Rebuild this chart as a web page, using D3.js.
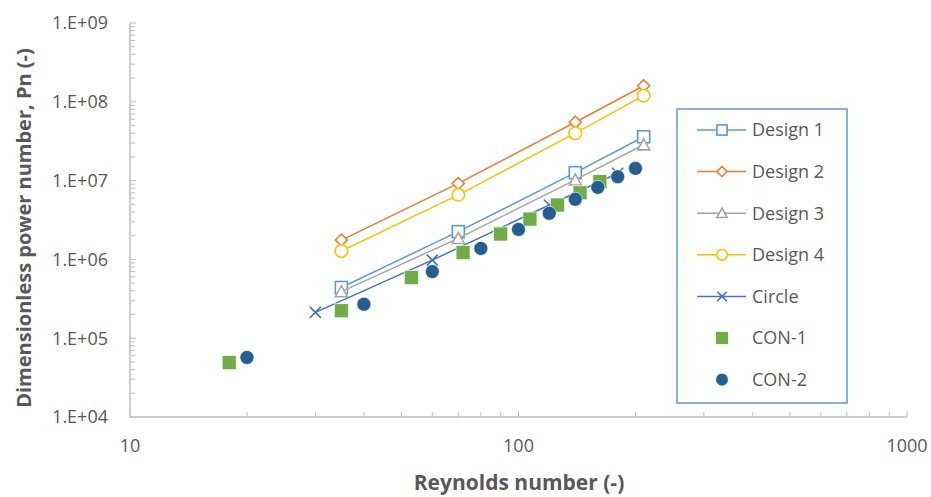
<!DOCTYPE html>
<html>
<head>
<meta charset="utf-8">
<script src="https://cdn.jsdelivr.net/npm/d3@7"></script>
<style>
  html, body { margin: 0; padding: 0; background: #fff; }
  svg { display: block; font-family: "Open Sans", "Noto Sans", sans-serif; }
</style>
</head>
<body>
<svg id="chart" width="931" height="497"></svg>
<script>
// Reynolds number (x) and dimensionless power number (y) per series
const designRe = [35, 70, 140, 210];
const design1 = [4.4e5, 2.25e6, 1.26e7, 3.6e7];
const design2 = [1.76e6, 9.2e6, 5.5e7, 1.6e8];
const design3 = [3.9e5, 1.85e6, 1.02e7, 2.85e7];
const design4 = [1.28e6, 6.6e6, 4.0e7, 1.2e8];

const circleRe = [30, 60, 120, 180];
const circleVals = [2.13e5, 9.8e5, 4.9e6, 1.24e7];

const con1Re = [18, 35, 53, 72, 90, 107, 126, 144, 162];
const con1Vals = [4.9e4, 2.23e5, 5.9e5, 1.22e6, 2.1e6, 3.25e6, 4.9e6, 7.0e6, 9.7e6];

const con2Re = [20, 40, 60, 80, 100, 120, 140, 160, 180, 200];
const con2Vals = [5.7e4, 2.7e5, 7.0e5, 1.38e6, 2.4e6, 3.85e6, 5.8e6, 8.2e6, 1.12e7, 1.43e7];

const xTickLabels = ["10", "100", "1000"];
const yTickLabels = ["1.E+04", "1.E+05", "1.E+06", "1.E+07", "1.E+08", "1.E+09"];

const seriesNames = ["Design 1", "Design 2", "Design 3", "Design 4", "Circle", "CON-1", "CON-2"];

const series = [
  { name: seriesNames[0], xs: designRe, ys: design1, color: "#5B9BD5", marker: "square", line: true },
  { name: seriesNames[1], xs: designRe, ys: design2, color: "#ED7D31", marker: "diamond", line: true },
  { name: seriesNames[2], xs: designRe, ys: design3, color: "#A5A5A5", marker: "triangle", line: true },
  { name: seriesNames[3], xs: designRe, ys: design4, color: "#FFC000", marker: "circle", line: true },
  { name: seriesNames[4], xs: circleRe, ys: circleVals, color: "#4472C4", marker: "cross", line: true },
  { name: seriesNames[5], xs: con1Re, ys: con1Vals, color: "#70AD47", marker: "fsquare", line: false },
  { name: seriesNames[6], xs: con2Re, ys: con2Vals, color: "#255E91", marker: "fcircle", line: false }
];

const svg = d3.select("#chart");
const plotLeft = 130, plotRight = 907, plotTop = 23, plotBottom = 417;

const x = d3.scaleLog().domain([10, 1000]).range([plotLeft, plotRight]);
const y = d3.scaleLog().domain([1e4, 1e9]).range([plotBottom, plotTop]);

const axisColor = "#BFBFBF";
const textColor = "#595959";

// Minor/major tick values for each decade
const xMinor = [], yMinor = [];
for (let d = 10; d < 1000; d *= 10) for (let k = 2; k <= 9; k++) xMinor.push(d * k);
for (let d = 1e4; d < 1e9; d *= 10) for (let k = 2; k <= 9; k++) yMinor.push(d * k);
const xMajor = xTickLabels.map(Number);
const yMajor = yTickLabels.map(Number);

// X axis: ticks point inward (upward)
const gx = svg.append("g").attr("transform", `translate(0,${plotBottom})`);
gx.append("line").attr("x1", plotLeft).attr("x2", plotRight).attr("stroke", axisColor).attr("stroke-width", 1.5);
gx.selectAll(".xminor").data(xMinor).join("line")
  .attr("x1", d => x(d)).attr("x2", d => x(d)).attr("y1", 0).attr("y2", -5)
  .attr("stroke", axisColor).attr("stroke-width", 1);
gx.selectAll(".xmajor").data(xMajor).join("line")
  .attr("x1", d => x(d)).attr("x2", d => x(d)).attr("y1", 0).attr("y2", -6)
  .attr("stroke", axisColor).attr("stroke-width", 1);
gx.selectAll(".xlab").data(xMajor).join("text")
  .attr("x", d => x(d)).attr("y", 35)
  .attr("text-anchor", "middle").attr("fill", textColor).attr("font-size", 18)
  .text((d, i) => xTickLabels[i]);

// Y axis: ticks point inward (rightward)
const gy = svg.append("g").attr("transform", `translate(${plotLeft},0)`);
gy.append("line").attr("y1", plotTop).attr("y2", plotBottom).attr("stroke", axisColor).attr("stroke-width", 1.5);
gy.selectAll(".yminor").data(yMinor).join("line")
  .attr("y1", d => y(d)).attr("y2", d => y(d)).attr("x1", 0).attr("x2", 5)
  .attr("stroke", axisColor).attr("stroke-width", 1);
gy.selectAll(".ymajor").data(yMajor).join("line")
  .attr("y1", d => y(d)).attr("y2", d => y(d)).attr("x1", 0).attr("x2", 6)
  .attr("stroke", axisColor).attr("stroke-width", 1);
gy.selectAll(".ylab").data(yMajor).join("text")
  .attr("x", -22).attr("y", d => y(d)).attr("dy", "0.35em")
  .attr("text-anchor", "end").attr("fill", textColor).attr("font-size", 18)
  .text((d, i) => yTickLabels[i]);

// Axis titles
svg.append("text").attr("x", 519).attr("y", 490)
  .attr("text-anchor", "middle").attr("font-weight", "bold").attr("font-size", 21)
  .attr("fill", textColor).text("Reynolds number (-)");
svg.append("text").attr("transform", "translate(31,228) rotate(-90)")
  .attr("text-anchor", "middle").attr("font-weight", "bold").attr("font-size", 20)
  .attr("fill", textColor).text("Dimensionless power number, Pn (-)");

// Marker drawing
function drawMarker(g, type, color, cx, cy, scale) {
  const s = scale || 1;
  if (type === "square") {
    const h = 6 * s;
    g.append("rect").attr("x", cx - h).attr("y", cy - h).attr("width", 2 * h).attr("height", 2 * h)
      .attr("fill", "#fff").attr("stroke", color).attr("stroke-width", 1.6);
  } else if (type === "diamond") {
    const h = 6 * s;
    g.append("path").attr("d", `M${cx},${cy - h}L${cx + h},${cy}L${cx},${cy + h}L${cx - h},${cy}Z`)
      .attr("fill", "#fff").attr("stroke", color).attr("stroke-width", 1.6);
  } else if (type === "triangle") {
    const h = 6 * s;
    g.append("path").attr("d", `M${cx},${cy - h}L${cx + h},${cy + h * 0.85}L${cx - h},${cy + h * 0.85}Z`)
      .attr("fill", "#fff").attr("stroke", color).attr("stroke-width", 1.6);
  } else if (type === "circle") {
    g.append("circle").attr("cx", cx).attr("cy", cy).attr("r", 6.3 * s)
      .attr("fill", "#fff").attr("stroke", color).attr("stroke-width", 1.6);
  } else if (type === "cross") {
    const h = 5.5 * s;
    g.append("path").attr("d", `M${cx - h},${cy - h}L${cx + h},${cy + h}M${cx - h},${cy + h}L${cx + h},${cy - h}`)
      .attr("fill", "none").attr("stroke", color).attr("stroke-width", 1.6);
  } else if (type === "fsquare") {
    const h = 7 * s;
    g.append("rect").attr("x", cx - h).attr("y", cy - h).attr("width", 2 * h).attr("height", 2 * h)
      .attr("fill", color).attr("stroke", "#fff").attr("stroke-width", 0.6);
  } else if (type === "fcircle") {
    g.append("circle").attr("cx", cx).attr("cy", cy).attr("r", 7 * s)
      .attr("fill", color).attr("stroke", "#fff").attr("stroke-width", 0.6);
  }
}

// Series lines and markers
const plot = svg.append("g");
const lineGen = d3.line().x(d => x(d[0])).y(d => y(d[1]));
series.forEach(s => {
  const pts = s.xs.map((v, i) => [v, s.ys[i]]);
  const g = plot.append("g");
  if (s.line) {
    g.append("path").attr("d", lineGen(pts)).attr("fill", "none")
      .attr("stroke", s.color).attr("stroke-width", 1.5);
  }
  pts.forEach(p => drawMarker(g, s.marker, s.color, x(p[0]), y(p[1]), 1));
});

// Legend
const lg = svg.append("g");
lg.append("rect").attr("x", 677).attr("y", 109).attr("width", 170).attr("height", 294)
  .attr("fill", "#fff").attr("stroke", "#5B9BD5").attr("stroke-width", 1.5);
series.forEach((s, i) => {
  const cy = 130 + i * 41.6;
  if (s.line) {
    lg.append("line").attr("x1", 697).attr("x2", 746).attr("y1", cy).attr("y2", cy)
      .attr("stroke", s.color).attr("stroke-width", 1.5);
  }
  drawMarker(lg, s.marker, s.color, 722, cy, s.line ? 0.85 : 0.9);
  lg.append("text").attr("x", 752).attr("y", cy).attr("dy", "0.35em")
    .attr("font-size", 18).attr("fill", textColor).text(s.name);
});
</script>
</body>
</html>
